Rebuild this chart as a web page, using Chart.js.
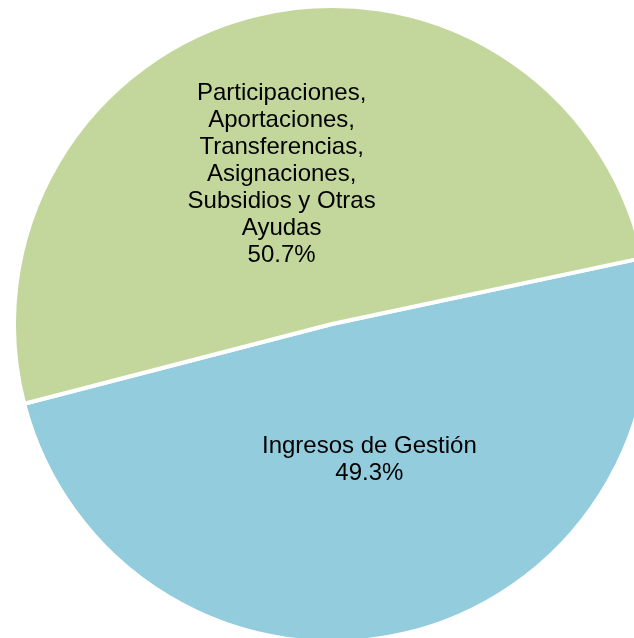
<!DOCTYPE html>
<html>
<head>
<meta charset="utf-8">
<script src="https://cdn.jsdelivr.net/npm/chart.js@4/dist/chart.umd.min.js"></script>
<style>
  html, body { margin: 0; padding: 0; background: #fff; overflow: hidden; }
  body { width: 634px; height: 638px; position: relative; }
  #wrap { position: absolute; left: 12px; top: 4px; width: 640px; height: 640px; }
</style>
</head>
<body>
<div id="wrap"><canvas id="pie" width="640" height="640"></canvas></div>
<script>
// slices, in drawing order (clockwise from the right-hand edge)
const categories = ['Ingresos de Gestión',
  'Participaciones, Aportaciones, Transferencias, Asignaciones, Subsidios y Otras Ayudas'];
const shares = [49.3, 50.7];
const labelLines = [
  ['Ingresos de Gestión'],
  ['Participaciones,', 'Aportaciones,', 'Transferencias,', 'Asignaciones,', 'Subsidios y Otras', 'Ayudas']
];
const sliceColors = ['#93CDDD', '#C3D69B'];

// where each label sits: fraction of the radius and a small angle tweak (deg)
const labelPlace = [{ f: 0.444, da: -2.1 }, { f: 0.495, da: -5.4 }];

const pieLabels = {
  id: 'pieLabels',
  afterDatasetsDraw(chart) {
    const ctx = chart.ctx;
    const arcs = chart.getDatasetMeta(0).data;
    ctx.save();
    ctx.font = '24px "Liberation Sans", Arial, sans-serif';
    ctx.fillStyle = '#000';
    ctx.textAlign = 'center';
    ctx.textBaseline = 'middle';
    arcs.forEach((arc, i) => {
      const p = arc.getProps(['x', 'y', 'startAngle', 'endAngle', 'outerRadius'], true);
      const a = (p.startAngle + p.endAngle) / 2 + labelPlace[i].da * Math.PI / 180;
      const r = p.outerRadius * labelPlace[i].f;
      const cx = p.x + Math.cos(a) * r;
      const cy = p.y + Math.sin(a) * r;
      const lines = labelLines[i].concat([shares[i].toFixed(1) + '%']);
      const lh = 27;
      const y0 = cy - (lines.length - 1) * lh / 2;
      lines.forEach((t, k) => ctx.fillText(t, cx, y0 + k * lh));
    });
    ctx.restore();
  }
};

new Chart(document.getElementById('pie'), {
  type: 'pie',
  data: {
    labels: categories,
    datasets: [{
      data: shares,
      backgroundColor: sliceColors,
      borderColor: '#fff',
      borderWidth: 4
    }]
  },
  options: {
    responsive: false,
    animation: false,
    rotation: 78,
    layout: { padding: 0 },
    plugins: {
      legend: { display: false },
      tooltip: { enabled: false }
    }
  },
  plugins: [pieLabels]
});
</script>
</body>
</html>
